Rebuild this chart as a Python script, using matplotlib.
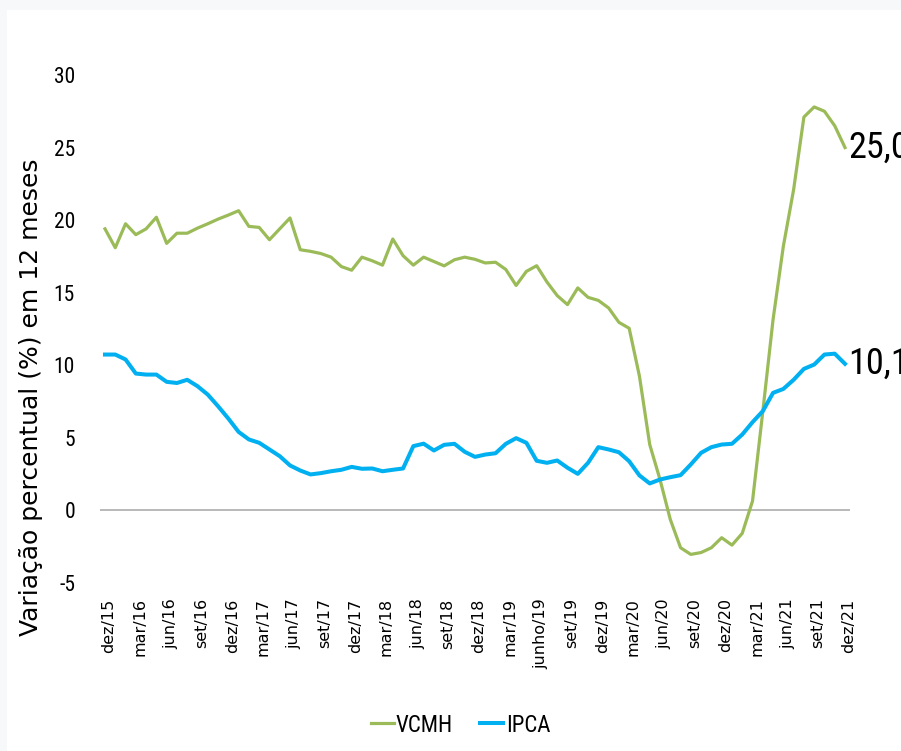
import matplotlib
matplotlib.use("Agg")
import matplotlib.pyplot as plt
from matplotlib.patches import Rectangle
import matplotlib.transforms as mtransforms
from matplotlib import font_manager
from matplotlib.font_manager import FontProperties

# ---- data ----
vcmh = [19.4, 18.1, 19.75, 19.0, 19.4, 20.2, 18.4, 19.1, 19.1, 19.45, 19.75, 20.07, 20.35,
        20.65, 19.57, 19.5, 18.65, 19.4, 20.15, 17.96, 17.85, 17.7, 17.45, 16.8, 16.55,
        17.45, 17.2, 16.9, 18.7, 17.55, 16.9, 17.45, 17.15, 16.85, 17.27, 17.45, 17.3,
        17.05, 17.1, 16.6, 15.5, 16.47, 16.86, 15.74, 14.8, 14.18, 15.33, 14.68, 14.47,
        13.95, 12.96, 12.55, 9.25, 4.54, 2.13, -0.62, -2.57, -3.03, -2.9, -2.57, -1.88,
        -2.39, -1.58, 0.64, 6.8, 13.15, 18.2, 22.1, 27.1, 27.8, 27.5, 26.5, 25.0]
ipca = [10.74, 10.74, 10.4, 9.43, 9.36, 9.36, 8.86, 8.78, 9.0, 8.56, 7.98, 7.18, 6.33,
        5.41, 4.89, 4.66, 4.2, 3.74, 3.1, 2.75, 2.48, 2.57, 2.7, 2.8, 3.0, 2.87, 2.89,
        2.7, 2.8, 2.89, 4.43, 4.6, 4.13, 4.52, 4.59, 4.04, 3.69, 3.85, 3.94, 4.59, 4.98,
        4.66, 3.42, 3.28, 3.44, 2.94, 2.52, 3.28, 4.36, 4.2, 4.01, 3.39, 2.41, 1.86, 2.13,
        2.29, 2.43, 3.17, 3.97, 4.36, 4.54, 4.59, 5.23, 6.08, 6.84, 8.1, 8.37, 9.0, 9.75,
        10.05, 10.74, 10.8, 10.1]
tick_labels = ["dez/15", "mar/16", "jun/16", "set/16", "dez/16", "mar/17", "jun/17",
               "set/17", "dez/17", "mar/18", "jun/18", "set/18", "dez/18", "mar/19",
               "junho/19", "set/19", "dez/19", "mar/20", "jun/20", "set/20", "dez/20",
               "mar/21", "jun/21", "set/21", "dez/21"]
y_ticks = [-5, 0, 5, 10, 15, 20, 25, 30]
end_labels = ["25,0", "10,1"]
series_names = ["VCMH", "IPCA"]

GREEN = "#9BBB59"
BLUE = "#00B0F0"

# pick the narrowest available sans family (reference uses a narrow Calibri-like face)
ttf = font_manager.fontManager.ttflist
names = {f.name for f in ttf}
if "Liberation Sans Narrow" in names:
    NFAM, NSTRETCH, SCALE = "Liberation Sans Narrow", "normal", 1.0
elif "Roboto Condensed" in names:
    NFAM, NSTRETCH, SCALE = "Roboto Condensed", "normal", 0.97
elif any(f.name == "DejaVu Sans" and "Condensed" in f.fname for f in ttf):
    NFAM, NSTRETCH, SCALE = "DejaVu Sans", "condensed", 0.88
else:
    NFAM, NSTRETCH, SCALE = "Roboto", "normal", 0.86


def nfont(size):
    return FontProperties(family=[NFAM, "DejaVu Sans"], stretch=NSTRETCH, size=size * SCALE)


W, H = 901, 751
fig = plt.figure(figsize=(W / 100, H / 100), dpi=100, facecolor="#f7f8fa")
fig.patches.append(Rectangle((7 / W, 0), 1, 1 - 10 / H, transform=fig.transFigure,
                             facecolor="white", edgecolor="none", zorder=-10))

ax = fig.add_axes([100 / W, 1 - 583 / H, 750 / W, (583 - 75) / H])
ax.set_zorder(1)
ax.set_facecolor("none")
x = list(range(len(vcmh)))
ax.plot(x, vcmh, color=GREEN, lw=2.3, label=series_names[0], solid_joinstyle="round", zorder=3)
ax.plot(x, ipca, color=BLUE, lw=2.9, label=series_names[1], solid_joinstyle="round", zorder=3)
ax.axhline(0, color="#a6a6a6", lw=1.1, zorder=1)

ax.set_xlim(-0.486, len(vcmh) - 1 + 0.486)
ax.set_ylim(-5, 30)
for s in ax.spines.values():
    s.set_visible(False)

ax.set_yticks(y_ticks)
ax.set_yticklabels([str(v) for v in y_ticks], fontproperties=nfont(16))
ax.tick_params(axis="y", length=0, pad=18)

ax.set_xticks(list(range(0, len(vcmh), 3)))
ax.set_xticklabels(tick_labels, rotation=90, fontfamily="DejaVu Sans", fontsize=11.5)
ax.tick_params(axis="x", length=0, pad=11)
offset = mtransforms.ScaledTranslation(4 / 100, 0, fig.dpi_scale_trans)
for lbl in ax.get_xticklabels():
    lbl.set_transform(lbl.get_transform() + offset)

ax.annotate(end_labels[0], (x[-1], vcmh[-1]), xytext=(2.5, 0), textcoords="offset points",
            va="center", ha="left", fontproperties=nfont(27), annotation_clip=False)
ax.annotate(end_labels[1], (x[-1], ipca[-1]), xytext=(2.5, 0), textcoords="offset points",
            va="center", ha="left", fontproperties=nfont(27), annotation_clip=False)

fig.text(31 / W, 1 - 397 / H, "Variação percentual (%) em 12 meses", rotation=90,
         ha="center", va="center", fontsize=18, fontfamily="DejaVu Sans")

fig.legend(loc="center", bbox_to_anchor=(0.511, 1 - 725 / H), ncol=2, frameon=False,
           handlelength=1.0, handletextpad=0.1, columnspacing=1.2,
           prop=nfont(17))

fig.savefig("out.png", dpi=100, facecolor=fig.get_facecolor())
